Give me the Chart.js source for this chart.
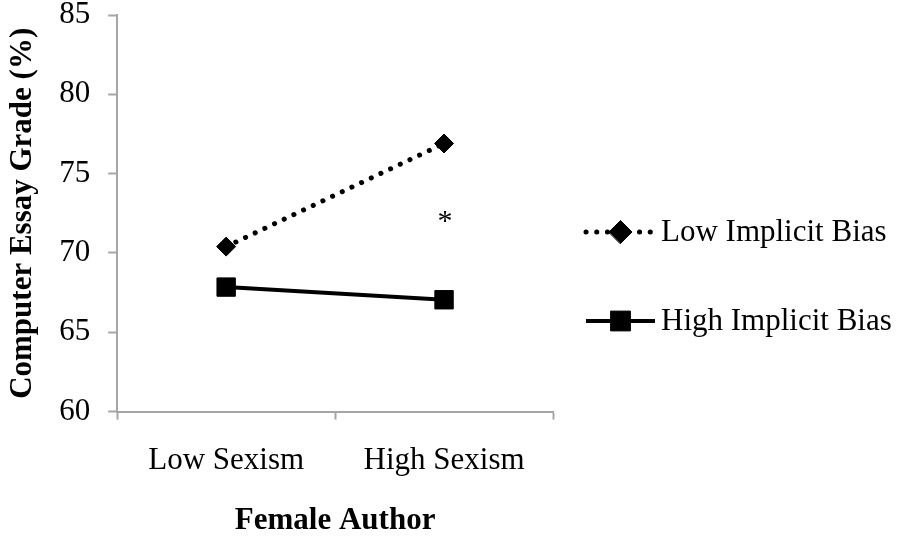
<!DOCTYPE html>
<html>
<head>
<meta charset="utf-8">
<script src="https://cdn.jsdelivr.net/npm/chart.js"></script>
<style>
    body { margin: 0; background: #fff; }
    #wrap { width: 904px; height: 540px; }
</style>
</head>
<body>
<div id="wrap"><canvas id="chart"></canvas></div>
<script>
// Datos del gráfico
const categories = ['Low Sexism', 'High Sexism'];
const seriesNames = ['Low Implicit Bias', 'High Implicit Bias'];
const lowBiasValues = [70.4, 76.9];
const highBiasValues = [67.85, 67.05];
const yTickMin = 60;
const yTickMax = 85;
const yTickStep = 5;
// marca de significancia (*)
const starCategory = ['High Sexism'];
const starValue = [72.25];

const serif = "'Liberation Serif', 'Times New Roman', serif";
const axisGray = '#a6a6a6';

// Leyenda a la derecha: línea + marcador + texto
const sideLegend = {
    id: 'sideLegend',
    afterDraw(chart) {
        const ctx = chart.ctx;
        const area = chart.chartArea;
        const rows = [area.top + 217, area.top + 306];
        const markerSize = [11.5, 14];
        chart.data.datasets.forEach((ds, i) => {
            const y = rows[i];
            const x0 = area.right + 33;
            const x1 = area.right + 102;
            ctx.save();
            ctx.strokeStyle = ds.borderColor;
            ctx.lineWidth = ds.borderWidth;
            ctx.lineCap = ds.borderCapStyle || 'butt';
            ctx.setLineDash(ds.borderDash || []);
            ctx.beginPath();
            ctx.moveTo(x0, y);
            ctx.lineTo(x1, y);
            ctx.stroke();
            ctx.setLineDash([]);
            ctx.fillStyle = '#000';
            ctx.strokeStyle = '#000';
            ctx.lineWidth = 1;
            Chart.helpers.drawPoint(ctx, {
                pointStyle: ds.pointStyle,
                radius: markerSize[i],
                rotation: 0,
                borderWidth: 1
            }, (x0 + x1) / 2, y);
            ctx.font = '31px ' + serif;
            ctx.textBaseline = 'middle';
            ctx.textAlign = 'left';
            ctx.fillText(ds.label, area.right + 108, y + 1);
            ctx.restore();
        });
    }
};

// Asterisco de significancia, ubicado con las escalas
const starMark = {
    id: 'starMark',
    afterDatasetsDraw(chart) {
        const ctx = chart.ctx;
        const xs = chart.scales.x;
        const ys = chart.scales.y;
        ctx.save();
        ctx.fillStyle = '#000';
        ctx.font = '30px ' + serif;
        ctx.textAlign = 'center';
        ctx.textBaseline = 'middle';
        starCategory.forEach((cat, i) => {
            const x = xs.getPixelForValue(categories.indexOf(cat));
            const y = ys.getPixelForValue(starValue[i]);
            ctx.fillText('*', x + 1, y + 5);
        });
        ctx.restore();
    }
};

const ctx = document.getElementById('chart').getContext('2d');
new Chart(ctx, {
    type: 'line',
    data: {
        labels: categories,
        datasets: [
            {
                label: seriesNames[0],
                data: lowBiasValues,
                borderColor: '#000',
                backgroundColor: '#000',
                borderWidth: 5,
                borderDash: [0.1, 10.6],
                borderCapStyle: 'round',
                pointStyle: 'rectRot',
                pointRadius: 9.5,
                pointBorderWidth: 1,
                fill: false
            },
            {
                label: seriesNames[1],
                data: highBiasValues,
                borderColor: '#000',
                backgroundColor: '#000',
                borderWidth: 4,
                pointStyle: 'rect',
                pointRadius: 13,
                pointBorderWidth: 1,
                fill: false
            }
        ]
    },
    options: {
        responsive: true,
        maintainAspectRatio: false,
        animation: false,
        events: [],
        layout: {
            padding: { left: 1, right: 351, top: 0, bottom: 0 }
        },
        plugins: {
            legend: { display: false },
            tooltip: { enabled: false }
        },
        scales: {
            x: {
                offset: true,
                grid: {
                    offset: true,
                    drawOnChartArea: false,
                    drawTicks: true,
                    tickLength: 8,
                    tickWidth: 2,
                    tickColor: axisGray
                },
                border: { color: axisGray, width: 2 },
                ticks: {
                    color: '#000',
                    padding: 23,
                    font: { family: serif, size: 31 }
                },
                title: {
                    display: true,
                    text: 'Female Author',
                    color: '#000',
                    padding: { top: 0, bottom: 0 },
                    font: { family: serif, size: 31, weight: 'bold' }
                }
            },
            y: {
                min: yTickMin,
                max: yTickMax,
                afterFit(scale) {
                    // el padding de los ticks no debe empujar el área hacia abajo
                    scale.paddingTop = 15;
                    scale.paddingBottom = 15;
                },
                grid: {
                    drawOnChartArea: false,
                    drawTicks: true,
                    tickLength: 9,
                    tickWidth: 2,
                    tickColor: axisGray
                },
                border: { color: axisGray, width: 2 },
                ticks: {
                    stepSize: yTickStep,
                    color: '#000',
                    padding: 18,
                    font: { family: serif, size: 31 }
                },
                title: {
                    display: true,
                    text: 'Computer Essay Grade (%)',
                    color: '#000',
                    padding: { top: 3, bottom: 0 },
                    font: { family: serif, size: 31, weight: 'bold' }
                }
            }
        }
    },
    plugins: [sideLegend, starMark]
});
</script>
</body>
</html>
